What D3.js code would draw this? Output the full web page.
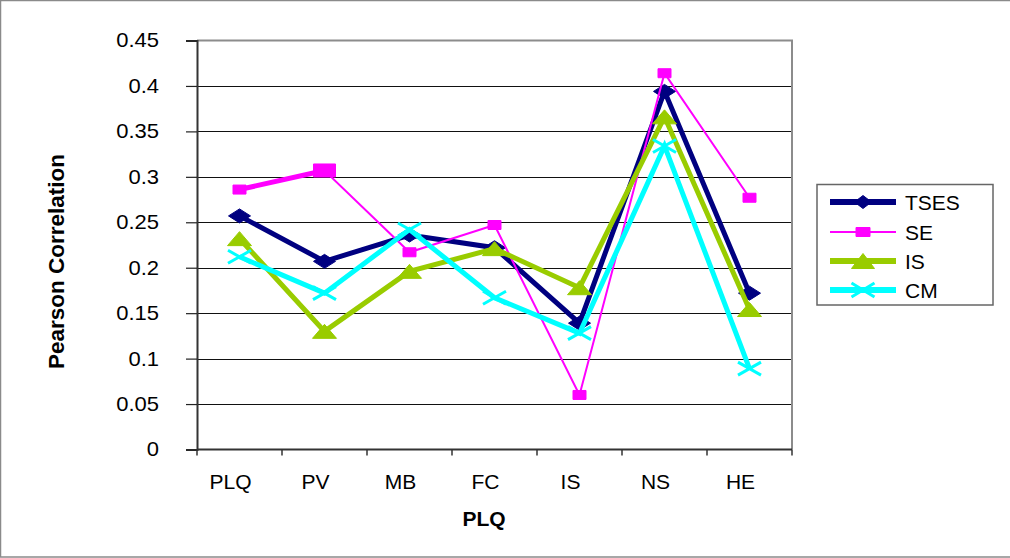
<!DOCTYPE html>
<html>
<head>
<meta charset="utf-8">
<script src="https://cdn.jsdelivr.net/npm/d3@7"></script>
<style>
  html, body { margin: 0; padding: 0; background: #fff; }
  svg text { font-family: "Liberation Sans", Arial, sans-serif; fill: #000; }
</style>
</head>
<body>
<svg id="chart" width="1010" height="558"></svg>
<script>
// Categories along the x axis
const categories = ["PLQ", "PV", "MB", "FC", "IS", "NS", "HE"];

// Pearson correlation per series
const tses = [0.257, 0.207, 0.236, 0.222, 0.139, 0.394, 0.172];
const se   = [0.286, 0.307, 0.217, 0.247, 0.060, 0.414, 0.277];
const is   = [0.232, 0.130, 0.196, 0.221, 0.178, 0.366, 0.154];
const cm   = [0.212, 0.172, 0.242, 0.167, 0.128, 0.334, 0.089];

const seriesNames = ["TSES", "SE", "IS", "CM"];
const yTicks = [0, 0.05, 0.1, 0.15, 0.2, 0.25, 0.3, 0.35, 0.4, 0.45];

const yTitle = "Pearson Correlation";
const xTitle = "PLQ";

const svg = d3.select("#chart");

const plot = { left: 197, right: 792, top: 40.5, bottom: 449.5 };

const x = d3.scaleBand().domain(categories).range([plot.left, plot.right]);
const y = d3.scaleLinear().domain([0, 0.45]).range([plot.bottom, plot.top]);
const cx = c => x(c) + x.bandwidth() / 2;

// outer chart frame
svg.append("rect")
  .attr("x", 0.5).attr("y", 0.5).attr("width", 1015).attr("height", 556.5)
  .attr("fill", "#fff").attr("stroke", "#8a8a8a").attr("stroke-width", 1.5);

// horizontal gridlines
svg.append("g")
  .selectAll("line")
  .data(yTicks.filter(t => t > 0 && t < 0.45))
  .join("line")
  .attr("x1", plot.left).attr("x2", plot.right)
  .attr("y1", d => Math.round(y(d)) + 0.5).attr("y2", d => Math.round(y(d)) + 0.5)
  .attr("stroke", "#111").attr("stroke-width", 1);

// plot area top / right border
svg.append("path")
  .attr("d", `M${plot.left},${plot.top}H${plot.right}V${plot.bottom}`)
  .attr("fill", "none").attr("stroke", "#8c8c8c").attr("stroke-width", 2);

// y axis
const yAxis = d3.axisLeft(y)
  .tickValues(yTicks)
  .tickFormat(d3.format("~g"))
  .tickSize(11)
  .tickPadding(25);

const gy = svg.append("g")
  .attr("transform", `translate(${plot.left},0)`)
  .call(yAxis);
gy.select(".domain").attr("stroke", "#333").attr("stroke-width", 2);
gy.selectAll(".tick line").attr("stroke", "#222").attr("stroke-width", 1.2);
gy.selectAll(".tick text")
  .attr("font-size", 20)
  .attr("font-family", "Liberation Sans, Arial, sans-serif")
  .attr("fill", "#000")
  .attr("transform", "scale(1.1,1)")
  .attr("dx", 1.5);

// x axis baseline and category boundary ticks
svg.append("line")
  .attr("x1", plot.left).attr("x2", plot.right)
  .attr("y1", plot.bottom).attr("y2", plot.bottom)
  .attr("stroke", "#333").attr("stroke-width", 2);

const edges = categories.map(c => x(c)).concat([x(categories[categories.length - 1]) + x.bandwidth()]);
svg.append("g")
  .selectAll("line")
  .data(edges)
  .join("line")
  .attr("x1", d => d).attr("x2", d => d)
  .attr("y1", plot.bottom).attr("y2", plot.bottom + 6)
  .attr("stroke", "#333").attr("stroke-width", 1.5);

svg.append("g")
  .selectAll("text")
  .data(categories)
  .join("text")
  .attr("x", d => cx(d) - 9)
  .attr("y", 489)
  .attr("text-anchor", "middle")
  .attr("font-size", 21)
  .text(d => d);

// axis titles
svg.append("text")
  .attr("transform", `translate(64,${(153 + 370) / 2}) rotate(-90)`)
  .attr("text-anchor", "middle")
  .attr("font-size", 22.5)
  .attr("font-weight", "bold")
  .text(yTitle);

svg.append("text")
  .attr("x", 484).attr("y", 526)
  .attr("text-anchor", "middle")
  .attr("font-size", 21)
  .attr("font-weight", "bold")
  .text(xTitle);

// marker shapes (w = width, h = height)
const markerPath = {
  diamond: (w, h) => `M${-w/2},0L0,${-h/2}L${w/2},0L0,${h/2}Z`,
  square: (w, h) => `M${-w/2},${-h/2}h${w}v${h}h${-w}Z`,
  triangle: (w, h) => `M${-w/2},${h/2}L0,${-h/2}L${w/2},${h/2}Z`,
  cross: (w, h) => `M${-w/2},${-h/2}L${w/2},${h/2}M${-w/2},${h/2}L${w/2},${-h/2}`
};

const series = [
  { name: seriesNames[0], values: tses, color: "#000080", width: 5, shape: "diamond", mw: 22, mh: 14 },
  { name: seriesNames[1], values: se,   color: "#ff00ff", width: 2, shape: "square",  mw: 13, mh: 9 },
  { name: seriesNames[2], values: is,   color: "#99cc00", width: 5, shape: "triangle", mw: 24, mh: 14 },
  { name: seriesNames[3], values: cm,   color: "#00ffff", width: 5, shape: "cross",   mw: 23, mh: 13 }
];

const line = d3.line().x(d => cx(d.c)).y(d => y(d.v));

series.forEach(s => {
  const pts = categories.map((c, i) => ({ c, v: s.values[i], i }));
  const g = svg.append("g");
  g.append("path")
    .attr("d", line(pts))
    .attr("fill", "none")
    .attr("stroke", s.color)
    .attr("stroke-width", s.width)
    .attr("stroke-linejoin", "miter");

  // SE: the PLQ–PV segment is drawn heavier, with an enlarged PV point
  if (s.shape === "square") {
    g.append("path")
      .attr("d", line(pts.slice(0, 2)))
      .attr("fill", "none")
      .attr("stroke", s.color)
      .attr("stroke-width", 5);
  }

  g.selectAll(".mk")
    .data(pts)
    .join("path")
    .attr("class", "mk")
    .attr("transform", d => `translate(${cx(d.c)},${y(d.v)})`)
    .attr("d", d => {
      const big = s.shape === "square" && d.i === 1;
      return markerPath[s.shape](big ? 22 : s.mw, big ? 13 : s.mh);
    })
    .attr("fill", s.shape === "cross" ? "none" : s.color)
    .attr("stroke", s.color)
    .attr("stroke-width", s.shape === "cross" ? 3 : 1);
});

// legend
const legend = svg.append("g");
legend.append("rect")
  .attr("x", 817).attr("y", 184.5).attr("width", 176).attr("height", 120.5)
  .attr("fill", "#fff").attr("stroke", "#666").attr("stroke-width", 1.5);

const legendY = [202, 232, 261, 290];
series.forEach((s, i) => {
  const ly = legendY[i];
  legend.append("line")
    .attr("x1", 830).attr("x2", 896)
    .attr("y1", ly).attr("y2", ly)
    .attr("stroke", s.color).attr("stroke-width", s.width + (s.width > 2 ? 1 : 0));
  const lm = { diamond: [17, 13], square: [14, 9], triangle: [23, 15], cross: [23, 14] }[s.shape];
  legend.append("path")
    .attr("transform", `translate(863,${ly})`)
    .attr("d", markerPath[s.shape](lm[0], lm[1]))
    .attr("fill", s.shape === "cross" ? "none" : s.color)
    .attr("stroke", s.color)
    .attr("stroke-width", s.shape === "cross" ? 3 : 1);
  legend.append("text")
    .attr("x", 905).attr("y", ly + 7.5)
    .attr("font-size", 21)
    .text(s.name);
});
</script>
</body>
</html>
